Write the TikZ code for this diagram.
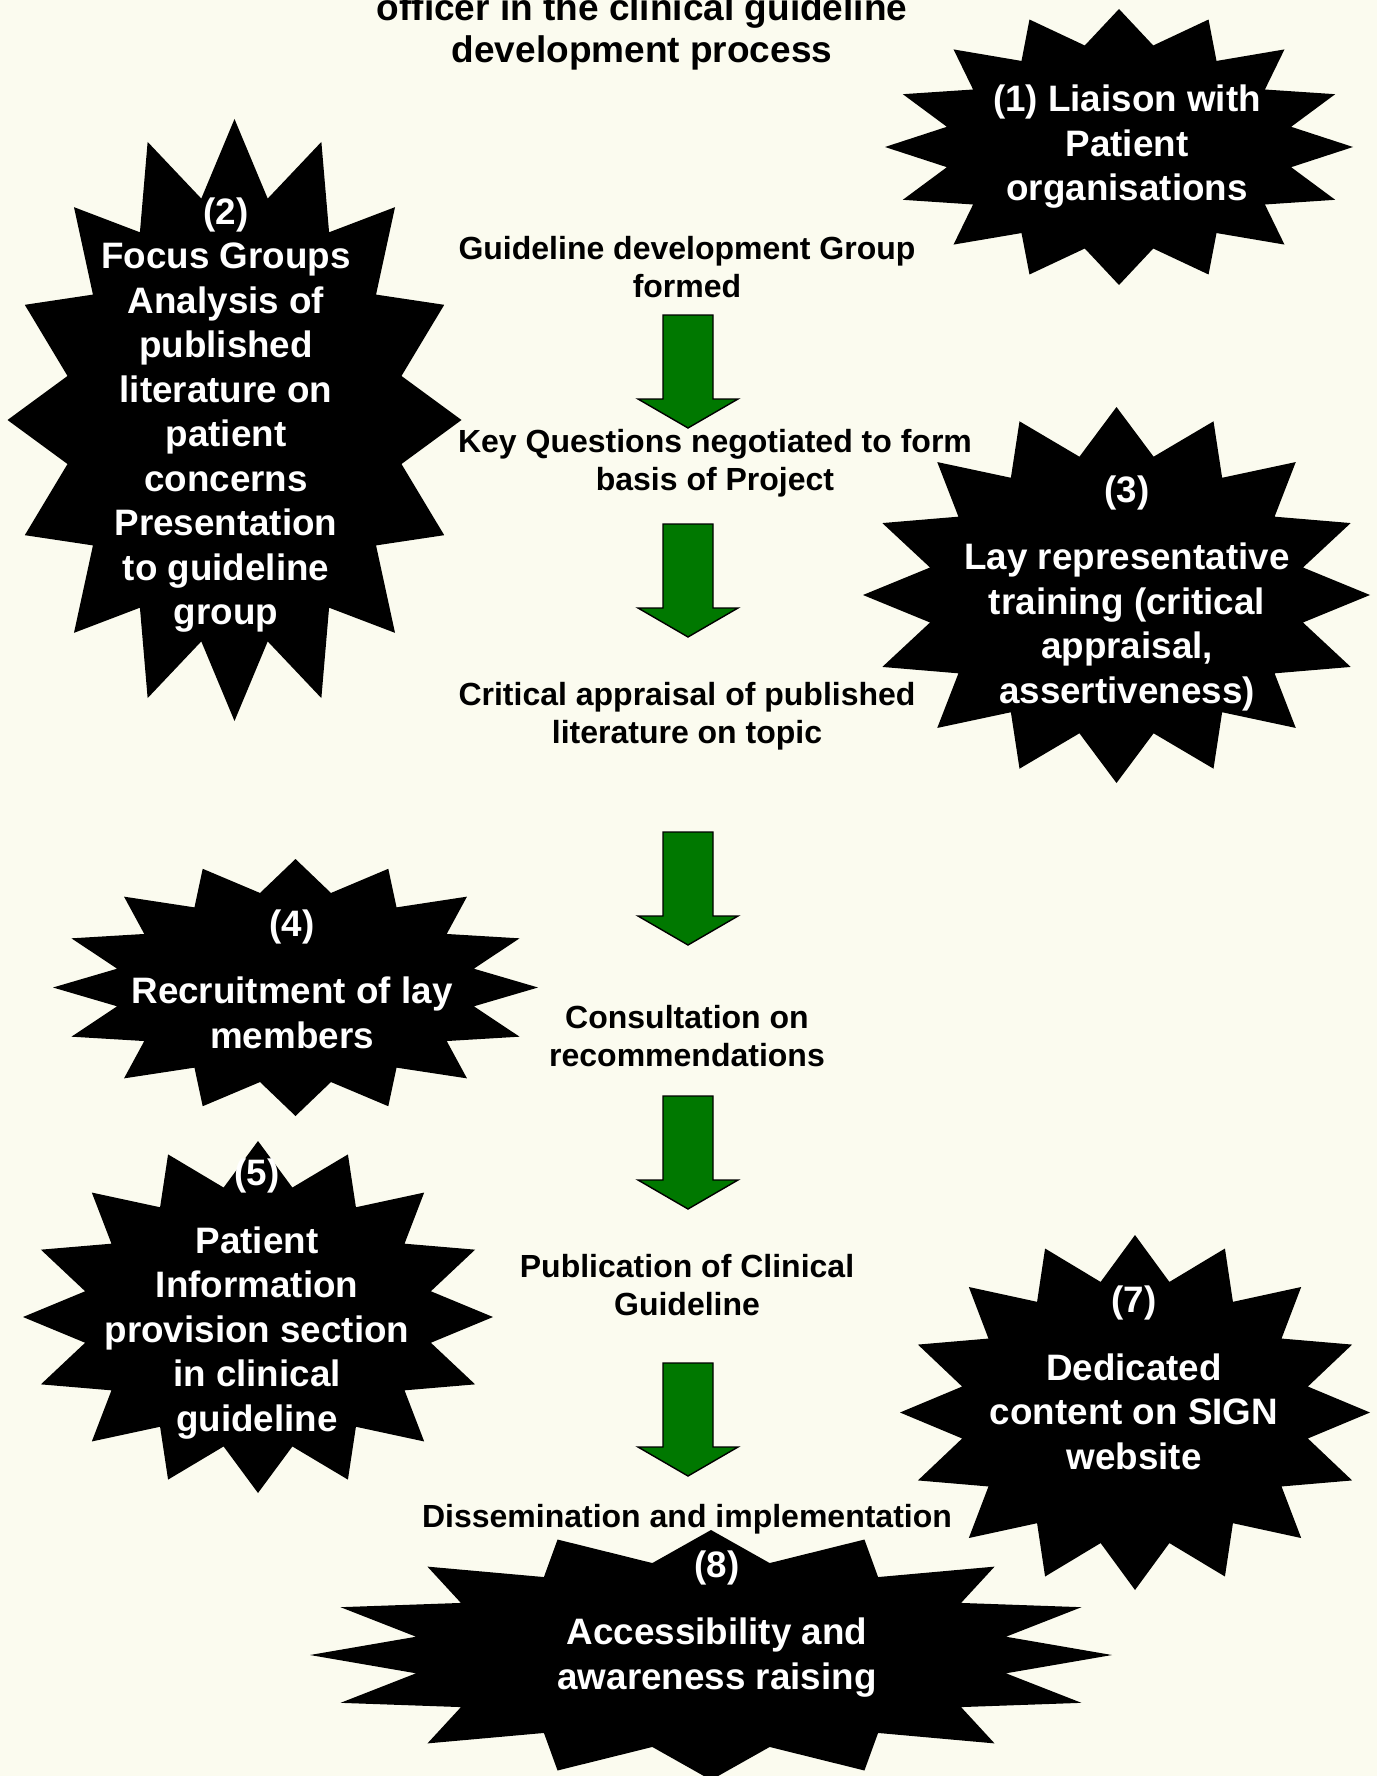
\documentclass[tikz,border=0pt]{standalone}
\usepackage{fontspec}
\setmainfont{Liberation Sans}
\usepackage{tikz}
\definecolor{paperColor}{RGB}{251,251,239}
\definecolor{arrowColor}{RGB}{0,120,0}
\tikzset{
  steptext/.style={align=center,inner sep=0pt,font=\bfseries\fontsize{16}{19.25}\selectfont},
  bursttext/.style={align=center,inner sep=0pt,text=white,font=\bfseries\fontsize{18.4}{22.25}\selectfont},
  flowarrow/.pic={
    \filldraw[fill=arrowColor,draw=black,line width=0.7pt]
      (-25,0) -- (25,0) -- (25,84) -- (50,84) -- (0,113) -- (-50,84) -- (-25,84) -- cycle;}
}
% 16 point star: centre x, centre y, x radius, y radius
\newcommand{\burst}[4]{%
  \fill[black,shift={(#1,#2)}] (xyz polar cs:angle=90,x radius=#3,y radius=#4)
    \foreach \k [evaluate=\k as \fac using {1-0.25*mod(\k,2)}] in {1,...,31}
      { -- (xyz polar cs:angle={90+11.25*\k},x radius={\fac*#3},y radius={\fac*#4}) } -- cycle;}

\begin{document}
\begin{tikzpicture}[x=0.5pt,y=-0.5pt]
  \fill[paperColor] (0,0) rectangle (1377,1776);
  \useasboundingbox (0,0) rectangle (1377,1776);

  \burst{1119}{147}{234}{138}
  \burst{234.5}{420}{227}{301}
  \burst{1116.5}{595}{253.5}{188}
  \burst{295.5}{987.5}{242.5}{128.5}
  \burst{258}{1317}{235}{176}
  \burst{1135}{1412.5}{235}{177.5}
  \burst{711}{1655}{401}{125}

  \node[bursttext] (s1) at (1127,147) {(1) Liaison with\\Patient\\organisations};
  \node[bursttext] (s2) at (226,415) {(2)\\Focus Groups\\Analysis of\\published\\literature on\\patient\\concerns\\Presentation\\to guideline\\group};
  \node[bursttext] (s3) at (1127,593) {(3)\\[11.5pt]Lay representative\\training (critical\\appraisal,\\assertiveness)};
  \node[bursttext] (s4) at (292,979) {(4)\\[11.5pt]Recruitment of lay\\members};
  \node[bursttext] (s5) at (257,1299) {(5)\\[11.5pt]Patient\\Information\\provision section\\in clinical\\guideline};
  \node[bursttext] (s7) at (1134,1378) {(7)\\[11.5pt]Dedicated\\content on SIGN\\website};
  \node[bursttext] (s8) at (717,1624) {(8)\\[11.5pt]Accessibility and\\awareness raising};

  \node[align=center,inner sep=0pt,font=\bfseries\fontsize{18.5}{21}\selectfont] (title) at (642,32)
    {officer in the clinical guideline\\development process};

  \node[steptext] (formed) at (687,267) {Guideline development Group\\formed};
  \node[steptext] (questions) at (715,463) {Key Questions negotiated to form\\basis of Project};
  \node[steptext] (appraisal) at (687,716) {Critical appraisal of published\\literature on topic};
  \node[steptext] (consult) at (687,1036) {Consultation on\\recommendations};
  \node[steptext] (publish) at (687,1285) {Publication of Clinical\\Guideline};
  \node[steptext] (dissem) at (687,1519) {Dissemination and implementation};

  \pic (a1) at (688,315) {flowarrow};
  \pic (a2) at (688,524) {flowarrow};
  \pic (a3) at (688,832) {flowarrow};
  \pic (a4) at (688,1096) {flowarrow};
  \pic (a5) at (688,1363) {flowarrow};
\end{tikzpicture}
\end{document}
